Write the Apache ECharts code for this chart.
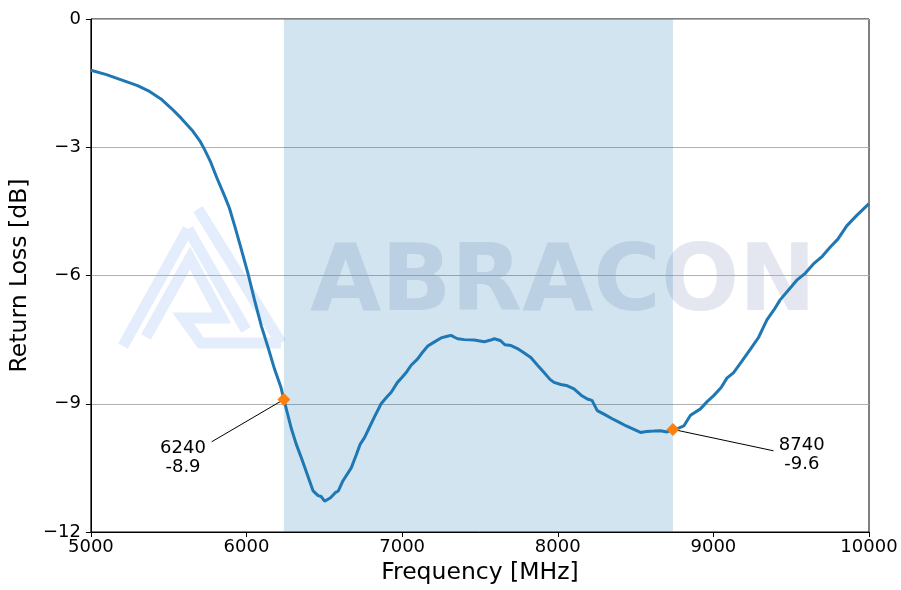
<!DOCTYPE html>
<html>
<head>
<meta charset="utf-8">
<script src="https://cdn.jsdelivr.net/npm/echarts@6/dist/echarts.min.js"></script>
<style>
html,body{margin:0;padding:0;background:#fff;overflow:hidden;}
#chart{width:901px;height:590px;}
</style>
</head>
<body>
<div id="chart"></div>
<script>
// ---- data ----
const freq = [5000,5100,5200,5300,5370,5450,5520,5580,5650,5700,5730,5770,5810,5860,5890,5925,5960,6010,6050,6096,6140,6180,6220,6240,6288,6320,6353,6390,6428,6460,6480,6502,6540,6570,6590,6620,6673,6705,6730,6760,6790,6823,6865,6900,6930,6970,7000,7030,7058,7100,7130,7165,7200,7250,7290,7314,7340,7357,7400,7464,7500,7528,7570,7592,7630,7660,7700,7741,7780,7827,7870,7912,7950,7976,8020,8062,8104,8150,8190,8220,8254,8300,8350,8393,8440,8489,8532,8570,8617,8660,8703,8740,8770,8810,8853,8917,8960,9002,9050,9087,9130,9180,9237,9290,9344,9390,9429,9480,9536,9590,9643,9700,9750,9800,9857,9920,10000];
const returnLoss = [-1.20,-1.30,-1.43,-1.56,-1.68,-1.87,-2.10,-2.32,-2.60,-2.85,-3.05,-3.35,-3.72,-4.15,-4.42,-4.85,-5.30,-5.96,-6.55,-7.19,-7.70,-8.19,-8.60,-8.90,-9.58,-9.95,-10.27,-10.65,-11.04,-11.15,-11.17,-11.28,-11.20,-11.08,-11.04,-10.80,-10.50,-10.20,-9.95,-9.78,-9.55,-9.30,-9.00,-8.85,-8.73,-8.50,-8.38,-8.25,-8.10,-7.95,-7.80,-7.65,-7.57,-7.46,-7.42,-7.40,-7.45,-7.48,-7.50,-7.51,-7.53,-7.55,-7.51,-7.48,-7.52,-7.62,-7.64,-7.71,-7.80,-7.92,-8.10,-8.27,-8.43,-8.50,-8.55,-8.58,-8.65,-8.80,-8.89,-8.92,-9.16,-9.25,-9.35,-9.43,-9.52,-9.60,-9.67,-9.65,-9.64,-9.63,-9.66,-9.60,-9.58,-9.52,-9.27,-9.12,-8.95,-8.81,-8.62,-8.40,-8.27,-8.02,-7.73,-7.45,-7.04,-6.80,-6.57,-6.35,-6.11,-5.95,-5.73,-5.55,-5.34,-5.15,-4.84,-4.60,-4.32];
const bandStart = 6240, bandEnd = 8740;
const markerFreq = [6240, 8740];
const markerVal = [-8.9, -9.6];
const labelPos = [[5592, -10.27], [9568, -10.2]];
const leaderEnd = [[5776, -9.89], [9386, -10.10]];
const xTicks = {min: 5000, max: 10000, step: 1000};
const yTicks = {min: -12, max: 0, step: 3};

const chart = echarts.init(document.getElementById('chart'), null, {renderer: 'canvas'});
const FONT = 'DejaVu Sans';
const wm = '#e4edfb';
const logoLines = [
  [[123,346],[188,229]],
  [[188,229],[246,330]],
  [[146,337],[190,258],[222,318],[183,318],[201,343],[281,343]],
  [[198,209],[281,343]]
];
const graphics = logoLines.map(pts => ({
  type: 'polyline', z: -10, silent: true,
  shape: {points: pts},
  style: {stroke: wm, lineWidth: 11, fill: null, lineJoin: 'miter'}
}));
graphics.push({
  type: 'text', z: -10, silent: true, x: 310, y: 286,
  style: {text: 'ABRACON', font: 'bold 92px "DejaVu Sans"', fill: '#e4e7ef', textVerticalAlign: 'middle', textAlign: 'left'}
});

const series = [
  {
    type: 'line', data: freq.map((f, i) => [f, returnLoss[i]]), showSymbol: false,
    lineStyle: {color: '#1f77b4', width: 3}, itemStyle: {color: '#1f77b4'}, z: 3, silent: true,
    markArea: {silent: true, itemStyle: {color: 'rgba(31,119,180,0.2)'}, data: [[{xAxis: bandStart}, {xAxis: bandEnd}]]}
  }
];
for (let i = 0; i < markerFreq.length; i++) {
  series.push({
    type: 'line', data: [[markerFreq[i], markerVal[i]], leaderEnd[i]], showSymbol: false, silent: true,
    lineStyle: {color: '#000', width: 1}, z: 4
  });
}
series.push({
  type: 'scatter', data: markerFreq.map((f, i) => [f, markerVal[i]]), symbol: 'diamond', symbolSize: 13,
  itemStyle: {color: '#ff7f0e', opacity: 1}, z: 5, silent: true
});
series.push({
  type: 'scatter', symbolSize: 0, silent: true, z: 6,
  itemStyle: {opacity: 1},
  data: labelPos.map((p, i) => ({value: p, label: {formatter: markerFreq[i] + '\n' + markerVal[i].toFixed(1)}})),
  label: {show: true, position: 'inside', color: '#000', opacity: 1, textBorderWidth: 0, fontFamily: FONT, fontSize: 18, lineHeight: 19.5, align: 'center'}
});

chart.setOption({
  animation: false,
  backgroundColor: '#fff',
  graphic: graphics,
  grid: {left: 89, right: 32, top: 19, bottom: 52, show: true, borderColor: '#000', borderWidth: 1, backgroundColor: 'transparent'},
  xAxis: {
    type: 'value', min: xTicks.min, max: xTicks.max, interval: xTicks.step,
    name: 'Frequency [MHz]', nameLocation: 'middle', nameGap: 29,
    nameTextStyle: {fontFamily: FONT, fontSize: 23.5, color: '#000'},
    axisLine: {show: true, onZero: false, lineStyle: {color: '#000', width: 1}},
    axisTick: {show: true, length: 5, lineStyle: {color: '#000'}},
    axisLabel: {fontFamily: FONT, fontSize: 18, color: '#000', margin: 6, formatter: v => String(v)},
    splitLine: {show: false}
  },
  yAxis: {
    type: 'value', min: yTicks.min, max: yTicks.max, interval: yTicks.step,
    name: 'Return Loss [dB]', nameLocation: 'middle', nameGap: 53,
    nameTextStyle: {fontFamily: FONT, fontSize: 23.5, color: '#000'},
    axisLine: {show: true, onZero: false, lineStyle: {color: '#000', width: 1}},
    axisTick: {show: true, length: 5, lineStyle: {color: '#000'}},
    axisLabel: {fontFamily: FONT, fontSize: 18, color: '#000', margin: 10,
      formatter: v => v < 0 ? '\u2212' + Math.abs(v) : String(v)},
    splitLine: {show: true, lineStyle: {color: '#b0b0b0', width: 1}}
  },
  series: series
});
</script>
</body>
</html>
